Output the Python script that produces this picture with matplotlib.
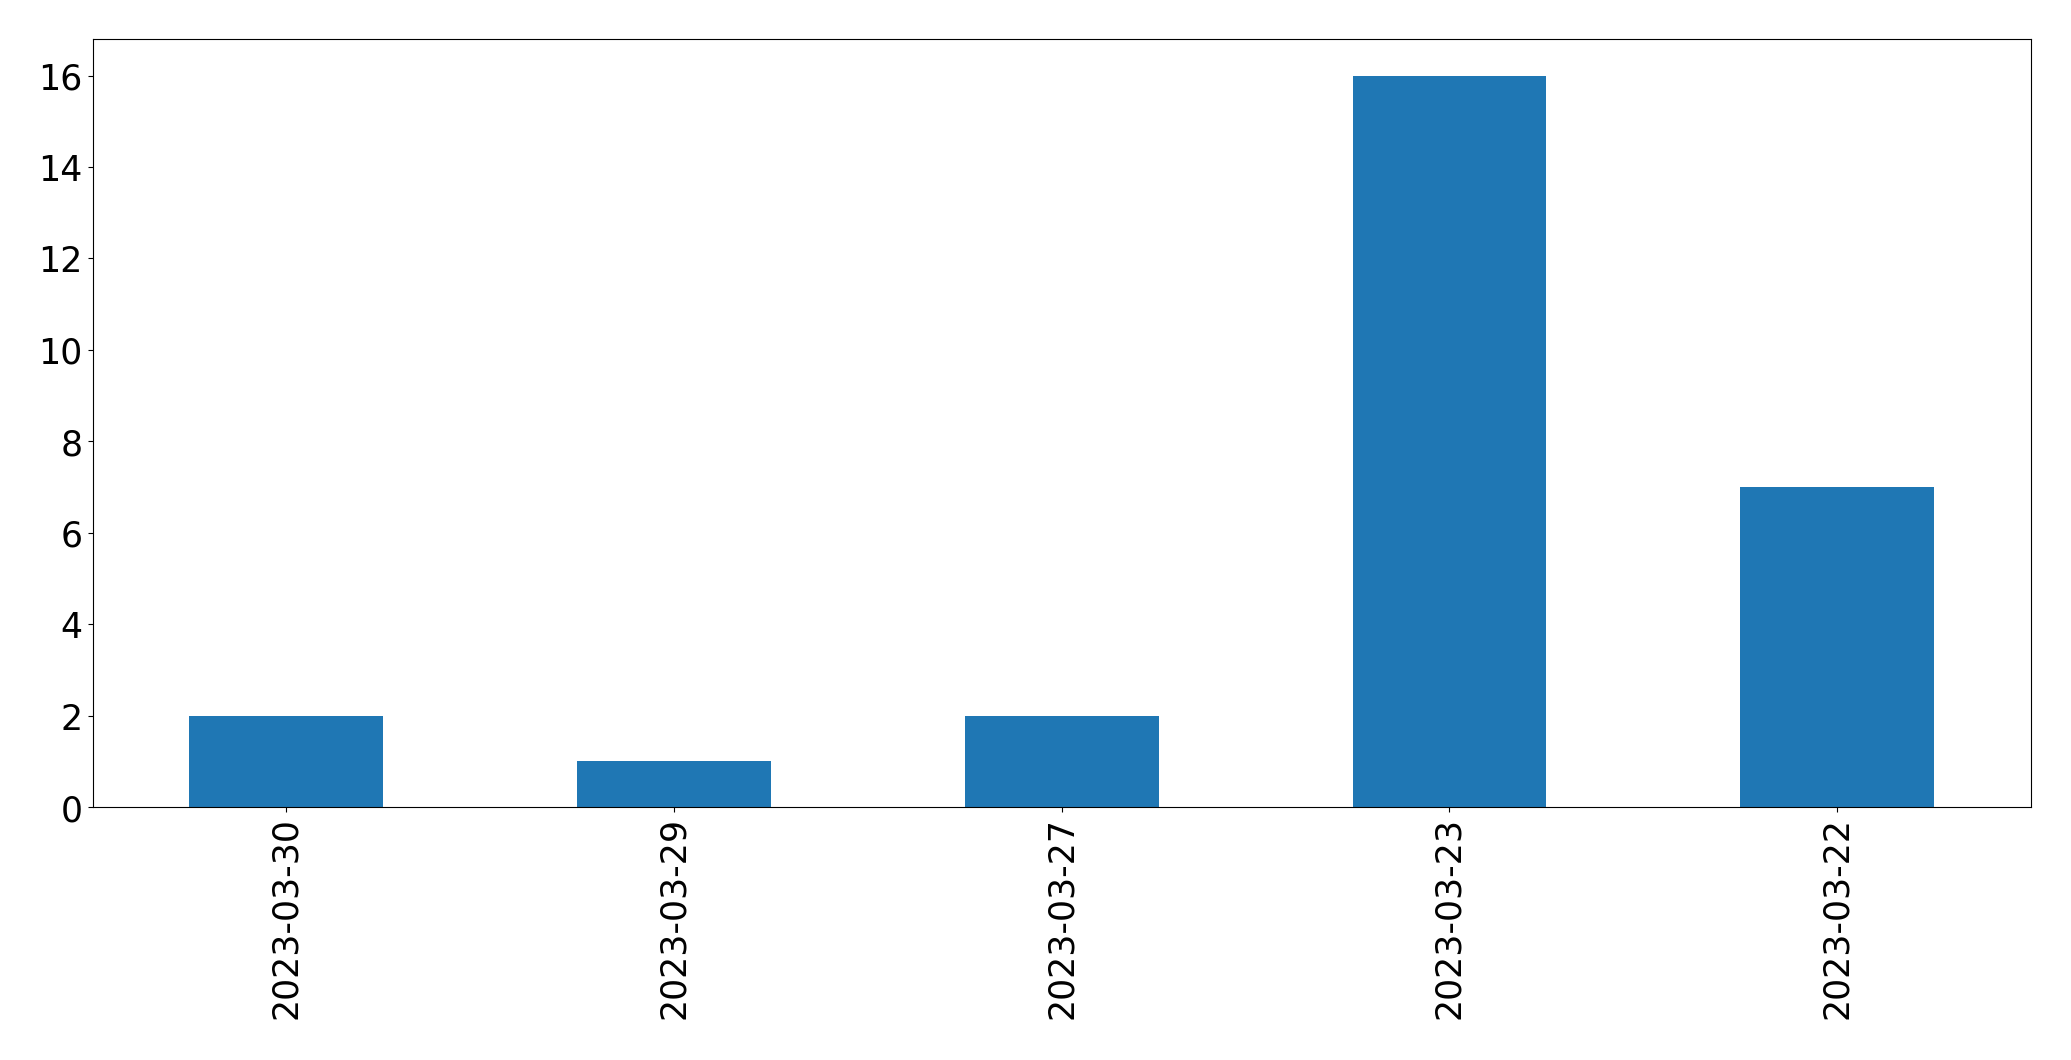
import matplotlib
matplotlib.use("Agg")
import matplotlib.pyplot as plt
import numpy as np

# data
dates = ["2023-03-30", "2023-03-29", "2023-03-27", "2023-03-23", "2023-03-22"]
counts = [2, 1, 2, 16, 7]


def main():
    fig, ax = plt.subplots(figsize=(20.71, 10.605), dpi=100)
    x = np.arange(len(dates))
    ax.bar(x, counts, width=0.5, color="#1f77b4")
    ax.set_xlim(-0.5, len(dates) - 0.5)
    ax.set_xticks(x)
    ax.set_xticklabels(dates, rotation=90)
    ax.tick_params(axis="both", labelsize=25)
    fig.subplots_adjust(left=0.0447, right=0.9807, top=0.9627, bottom=0.2385)
    fig.savefig("out.png")


if __name__ == "__main__":
    main()
